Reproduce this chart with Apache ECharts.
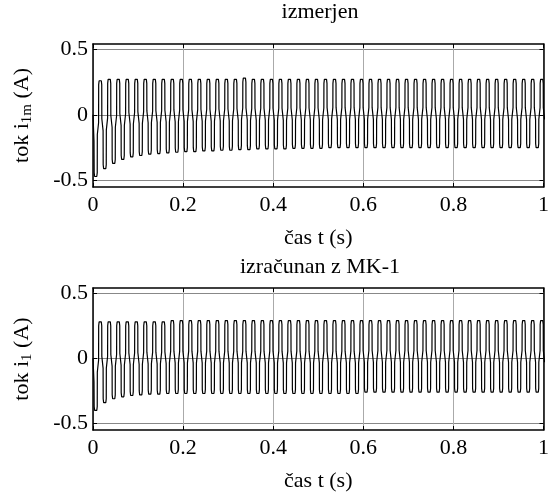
<!DOCTYPE html>
<html>
<head>
<meta charset="utf-8">
<script src="https://cdn.jsdelivr.net/npm/echarts@6/dist/echarts.min.js"></script>
<style>
  html, body { margin: 0; padding: 0; background: #fff; }
  #chart { width: 552px; height: 494px; }
</style>
</head>
<body>
<div id="chart"></div>
<script>
// trough instants of each 50 Hz cycle (s)
const troughTimes = [0.006, 0.026, 0.046, 0.066, 0.086, 0.106, 0.126, 0.146, 0.166, 0.186,
  0.206, 0.226, 0.246, 0.266, 0.286, 0.306, 0.326, 0.346, 0.366, 0.386,
  0.406, 0.426, 0.446, 0.466, 0.486, 0.506, 0.526, 0.546, 0.566, 0.586,
  0.606, 0.626, 0.646, 0.666, 0.686, 0.706, 0.726, 0.746, 0.766, 0.786,
  0.806, 0.826, 0.846, 0.866, 0.886, 0.906, 0.926, 0.946, 0.966, 0.986]

// izmerjen (measured)
const peaks1 = [0.26, 0.27, 0.27, 0.27, 0.27, 0.27, 0.27, 0.27, 0.27, 0.27,
  0.27, 0.27, 0.27, 0.27, 0.27, 0.27, 0.28, 0.27, 0.27, 0.27,
  0.27, 0.27, 0.27, 0.27, 0.27, 0.27, 0.27, 0.27, 0.27, 0.27,
  0.27, 0.27, 0.27, 0.27, 0.27, 0.27, 0.27, 0.27, 0.27, 0.27,
  0.27, 0.27, 0.27, 0.27, 0.27, 0.27, 0.27, 0.27, 0.27, 0.27]
const troughs1 = [-0.47, -0.41, -0.37, -0.34, -0.32, -0.31, -0.30, -0.295, -0.29, -0.285,
  -0.28, -0.28, -0.275, -0.275, -0.27, -0.27, -0.265, -0.265, -0.26, -0.26,
  -0.26, -0.26, -0.255, -0.255, -0.255, -0.255, -0.25, -0.25, -0.25, -0.25,
  -0.25, -0.25, -0.25, -0.25, -0.25, -0.25, -0.25, -0.25, -0.25, -0.25,
  -0.25, -0.25, -0.25, -0.25, -0.25, -0.25, -0.25, -0.25, -0.25, -0.25]

// izračunan z MK-1 (computed)
const peaks2 = [0.28, 0.28, 0.28, 0.28, 0.28, 0.28, 0.28, 0.28, 0.29, 0.29,
  0.29, 0.29, 0.29, 0.29, 0.29, 0.29, 0.29, 0.29, 0.29, 0.29,
  0.29, 0.29, 0.29, 0.29, 0.29, 0.29, 0.29, 0.29, 0.29, 0.29,
  0.29, 0.29, 0.29, 0.29, 0.29, 0.29, 0.29, 0.29, 0.29, 0.29,
  0.29, 0.29, 0.29, 0.29, 0.29, 0.29, 0.29, 0.29, 0.29, 0.29]
const troughs2 = [-0.40, -0.34, -0.31, -0.295, -0.285, -0.28, -0.275, -0.275, -0.27, -0.27,
  -0.27, -0.27, -0.27, -0.27, -0.27, -0.27, -0.27, -0.27, -0.27, -0.27,
  -0.27, -0.27, -0.27, -0.27, -0.27, -0.27, -0.27, -0.27, -0.27, -0.27,
  -0.26, -0.26, -0.26, -0.26, -0.26, -0.26, -0.26, -0.26, -0.26, -0.26,
  -0.26, -0.26, -0.26, -0.26, -0.26, -0.26, -0.26, -0.26, -0.26, -0.26]

// start of trace before the first trough
const leadTimes = [0, 0.0022]
const lead1 = [0, -0.2]
const lead2 = [0, -0.18]
const shelfHalf = 0.045 // small jog near zero on each edge
const capDrop = 0.03    // rounding of tops and bottoms

const yTicks = [-0.5, 0, 0.5]

function buildWave(lead, peaks, troughs) {
  const pts = leadTimes.map((t, i) => [t, lead[i]])
  for (let k = 0; k < troughTimes.length; k++) {
    const t = troughTimes[k]
    const T = troughs[k], P = peaks[k]
    const Tn = k + 1 < troughs.length ? troughs[k + 1] : T
    const up = (T + P) / 2, dn = (P + Tn) / 2
    pts.push(
      [t - 0.0034, T + capDrop], [t - 0.0024, T], [t + 0.0024, T], [t + 0.0034, T + capDrop],
      [t + 0.0036, up - shelfHalf], [t + 0.0064, up + shelfHalf],
      [t + 0.0066, P - capDrop], [t + 0.0076, P], [t + 0.0124, P], [t + 0.0134, P - capDrop],
      [t + 0.0136, dn + shelfHalf], [t + 0.0164, dn - shelfHalf]
    )
  }
  return pts
}

const FONT = 'Liberation Serif'
const txt = { fontFamily: FONT, fontSize: 22, color: '#000' }

const chart = echarts.init(document.getElementById('chart'))

const grids = [
  { left: 93, right: 5, top: 44, height: 143 },
  { left: 93, right: 5, top: 288, height: 142 }
]

const xAxes = []
const yAxes = []
grids.forEach((g, i) => {
  xAxes.push({
    type: 'value', gridIndex: i, min: 0, max: 1, interval: 0.2, position: 'bottom',
    name: 'čas t (s)', nameLocation: 'middle', nameGap: 40, nameTextStyle: txt,
    axisLine: { onZero: false, lineStyle: { color: '#000', width: 1.5 } },
    axisTick: { inside: true, length: 4, lineStyle: { color: '#000' } },
    axisLabel: { ...txt, margin: 7, formatter: v => String(v) },
    splitLine: { show: true, lineStyle: { color: '#aaa', width: 1 } }
  })
  xAxes.push({
    type: 'value', gridIndex: i, min: 0, max: 1, interval: 0.2, position: 'top',
    axisLine: { onZero: false, lineStyle: { color: '#000', width: 1.5 } },
    axisTick: { inside: true, length: 4, lineStyle: { color: '#000' } },
    axisLabel: { show: false }, splitLine: { show: false }
  })
  const yName = i === 0
    ? '{a|tok i}{s|1m}{a| (A)}'
    : '{a|tok i}{s|1}{a| (A)}'
  yAxes.push({
    type: 'value', gridIndex: i, min: -0.55, max: 0.54, position: 'left',
    name: yName, nameLocation: 'middle', nameGap: 58, nameRotate: 90,
    nameTextStyle: {
      ...txt,
      rich: {
        a: { fontFamily: FONT, fontSize: 22, color: '#000' },
        s: { fontFamily: FONT, fontSize: 15, color: '#000', padding: [10, 0, 0, 0] }
      }
    },
    axisLine: { onZero: false, lineStyle: { color: '#000', width: 1.5 } },
    axisTick: { inside: true, length: 4, customValues: yTicks, lineStyle: { color: '#000' } },
    axisLabel: { ...txt, margin: 5, customValues: yTicks, formatter: v => String(v) },
    splitLine: { show: true, lineStyle: { color: '#888', width: 1 } }
  })
  yAxes.push({
    type: 'value', gridIndex: i, min: -0.55, max: 0.54, position: 'right',
    axisLine: { onZero: false, lineStyle: { color: '#000', width: 1.5 } },
    axisTick: { inside: true, length: 4, customValues: yTicks, lineStyle: { color: '#000' } },
    axisLabel: { show: false }, splitLine: { show: false }
  })
})

chart.setOption({
  animation: false,
  backgroundColor: '#fff',
  title: [
    { text: 'izmerjen', left: 320, top: 1, padding: 0, textAlign: 'center',
      textStyle: { ...txt, fontWeight: 'normal' } },
    { text: 'izračunan z MK-1', left: 320, top: 256, padding: 0, textAlign: 'center',
      textStyle: { ...txt, fontWeight: 'normal' } }
  ],
  grid: grids,
  xAxis: xAxes,
  yAxis: yAxes,
  series: [
    {
      type: 'line', xAxisIndex: 0, yAxisIndex: 0, data: buildWave(lead1, peaks1, troughs1),
      showSymbol: false, lineStyle: { color: '#000', width: 1.2 }, clip: true
    },
    {
      type: 'line', xAxisIndex: 2, yAxisIndex: 2, data: buildWave(lead2, peaks2, troughs2),
      showSymbol: false, lineStyle: { color: '#000', width: 1.2 }, clip: true
    }
  ]
})
</script>
</body>
</html>
